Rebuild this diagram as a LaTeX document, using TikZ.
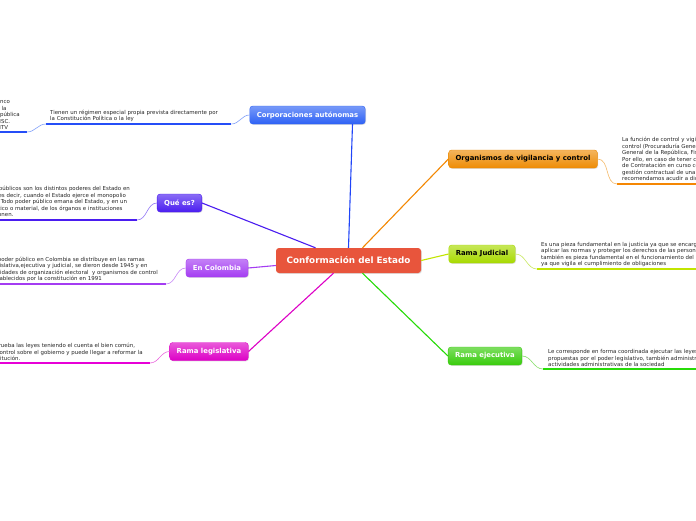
\documentclass[tikz,border=0pt]{standalone}
\usepackage{fontspec}
\setmainfont{DejaVu Sans}
\usepackage{tikz}
\usetikzlibrary{shadows}
\definecolor{crojo}{HTML}{E8553C}
\definecolor{cazul}{HTML}{2E62F5}
\definecolor{cindigo}{HTML}{4A1DF0}
\definecolor{cvioleta}{HTML}{A43CF2}
\definecolor{cmagenta}{HTML}{DD00C6}
\definecolor{cnaranja}{HTML}{EE8C05}
\definecolor{clima}{HTML}{A8DA00}
\definecolor{cverde}{HTML}{38CC0C}
\tikzset{
  raiz/.style={rectangle, rounded corners=3pt, fill=crojo, text=white,
    font=\fontsize{8.8}{10}\selectfont\bfseries, minimum width=145pt,
    minimum height=25pt, inner sep=0pt,
    drop shadow={opacity=0.25, shadow xshift=0.8pt, shadow yshift=-0.8pt}},
  rama/.style={rectangle, rounded corners=3pt, top color=#1!65!white,
    bottom color=#1, draw=#1, text=white,
    font=\fontsize{6.9}{8}\selectfont\bfseries, minimum height=18pt,
    inner xsep=7pt, inner ysep=0pt,
    drop shadow={opacity=0.25, shadow xshift=0.8pt, shadow yshift=-0.8pt}},
  nota/.style={font=\fontsize{5.45}{6.5}\selectfont, align=left,
    text=black!85, inner ysep=2pt},
  barra/.style={line width=2.3pt, draw=#1},
  enlace/.style={line width=0.6pt, draw=#1!60!white},
  linea/.style={line width=1.1pt, draw=#1},
}

\begin{document}
\begin{tikzpicture}[x=1pt, y=-1pt]
  \useasboundingbox (0,0) rectangle (696,520);
  \clip (0,0) rectangle (696,520);
  \fill[white] (0,0) rectangle (696,520);

  % ramas principales
  \node[raiz] (centro) at (348.5,260.5) {Conformación del Estado};
  \node[rama=cazul] (corp) at (307.5,115) {Corporaciones autónomas};
  \node[rama=cindigo] (que) at (179.5,203) {Qué es?};
  \node[rama=cvioleta] (col) at (217,268) {En Colombia};
  \node[rama=cmagenta] (legis) at (209,351.5) {Rama legislativa};
  \node[rama=cnaranja, text=black] (org) at (523,159) {Organismos de vigilancia y control};
  \node[rama=clima, text=black] (jud) at (482,254) {Rama Judicial};
  \node[rama=cverde] (ejec) at (485,356) {Rama ejecutiva};

  % notas
  \node[nota, anchor=south west, inner xsep=4pt, text width=177pt] (corpTxt) at (46,124)
    {Tienen un régimen especial propia prevista directamente por\\la Constitución Política o la ley};
  \node[nota, anchor=south east, inner xsep=7pt] (corpEj) at (27,132)
    {Banco\\de la\\República\\CNSC.\\CNTV};
  \node[nota, anchor=south east, inner xsep=7pt] (queTxt) at (137,220)
    {Los poderes públicos son los distintos poderes del Estado en\\su ejercicio, es decir, cuando el Estado ejerce el monopolio\\de la fuerza. Todo poder público emana del Estado, y en un\\sentido práctico o material, de los órganos e instituciones\\que lo componen.};
  \node[nota, anchor=south east, inner xsep=8pt] (colTxt) at (166,284)
    {El poder público en Colombia se distribuye en las ramas\\legislativa,ejecutiva y judicial, se dieron desde 1945 y en\\entidades de organización electoral \ y organismos de control\\establecidos por la constitución en 1991};
  \node[nota, anchor=south east, inner xsep=7pt] (legisTxt) at (150,363)
    {Elabora y aprueba las leyes teniendo el cuenta el bien común,\\y ejerce un control sobre el gobierno y puede llegar a reformar la\\misma Constitución.};
  \node[nota, anchor=south west, inner xsep=5pt] (orgTxt) at (617,184)
    {La función de control y vigilancia corresponde a los organismos de\\control (Procuraduría General de la Nación, Contraloría\\General de la República, Fiscalía General de la Nación).\\Por ello, en caso de tener conocimiento de un Proceso\\de Contratación en curso con irregularidades en la\\gestión contractual de una Entidad Estatal, le\\recomendamos acudir a dichos organismos.};
  \node[nota, anchor=south west, inner xsep=4pt] (judTxt) at (537,269)
    {Es una pieza fundamental en la justicia ya que se encarga de\\aplicar las normas y proteger los derechos de las personas,\\también es pieza fundamental en el funcionamiento del Estado\\ya que vigila el cumplimiento de obligaciones};
  \node[nota, anchor=south west, inner xsep=5pt] (ejecTxt) at (543,369)
    {Le corresponde en forma coordinada ejecutar las leyes\\propuestas por el poder legislativo, también administra las\\actividades administrativas de la sociedad};

  % barras
  \draw[barra=cazul!80!blue] (corpTxt.south west) -- (corpTxt.south east);
  \draw[barra=cazul!80!blue] (corpEj.south west) -- (corpEj.south east);
  \draw[barra=cindigo] (queTxt.south west) -- (queTxt.south east);
  \draw[barra=cvioleta] (colTxt.south west) -- (colTxt.south east);
  \draw[barra=cmagenta!70!magenta] (legisTxt.south west) -- (legisTxt.south east);
  \draw[barra=cnaranja!60!orange] (orgTxt.south west) -- (orgTxt.south east);
  \draw[barra=clima!70!yellow] (judTxt.south west) -- (judTxt.south east);
  \draw[barra=cverde!70!green] (ejecTxt.south west) -- (ejecTxt.south east);

  % enlaces a las notas
  \draw[enlace=cazul] (corp.west) to[out=180,in=0] (corpTxt.south east);
  \draw[enlace=cazul] (corpTxt.south west) to[out=180,in=0] (corpEj.south east);
  \draw[enlace=cindigo] (que.west) to[out=180,in=0] (queTxt.south east);
  \draw[enlace=cvioleta] (col.west) to[out=180,in=0] (colTxt.south east);
  \draw[enlace=cmagenta] (legis.west) to[out=180,in=0] (legisTxt.south east);
  \draw[enlace=cnaranja] (org.east) to[out=0,in=180] (orgTxt.south west);
  \draw[enlace=clima] (jud.east) to[out=0,in=180] (judTxt.south west);
  \draw[enlace=cverde] (ejec.east) to[out=0,in=180] (ejecTxt.south west);

  % lineas desde el centro
  \draw[linea=cazul!70!blue] (centro.north) -- ([xshift=45pt]corp.south);
  \draw[linea=cindigo] ([xshift=-33pt]centro.north) -- (que.east);
  \draw[linea=cvioleta] ([yshift=-5pt]centro.west) -- (col.east);
  \draw[linea=cmagenta] ([xshift=-15pt]centro.south) -- (legis.east);
  \draw[linea=cnaranja!70!orange] ([xshift=14pt]centro.north) -- (org.west);
  \draw[linea=clima!70!yellow] (centro.east) -- (jud.west);
  \draw[linea=cverde!70!green] ([xshift=14pt]centro.south) -- (ejec.west);
\end{tikzpicture}
\end{document}
